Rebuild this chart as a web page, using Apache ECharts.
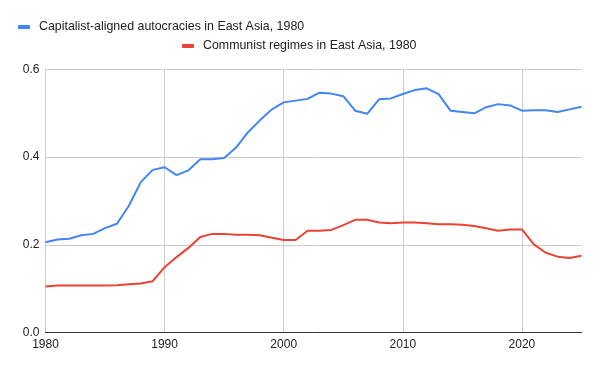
<!DOCTYPE html>
<html>
<head>
<meta charset="utf-8">
<script src="https://cdn.jsdelivr.net/npm/echarts@6/dist/echarts.min.js"></script>
<style>html,body{margin:0;padding:0;background:#fff;}#c{width:600px;height:371px;}</style>
</head>
<body>
<div id="c"></div>
<script>
var years = [];
for (var y = 1980; y <= 2025; y++) years.push(String(y));
var seriesNames = ['Capitalist-aligned autocracies in East Asia, 1980', 'Communist regimes in East Asia, 1980'];
var capitalist = [0.206,0.212,0.214,0.222,0.225,0.238,0.248,0.289,0.343,0.371,
                  0.377,0.359,0.370,0.395,0.395,0.398,0.422,0.457,0.484,0.509,
                  0.525,0.529,0.533,0.547,0.545,0.539,0.506,0.499,0.532,0.534,
                  0.544,0.553,0.557,0.544,0.506,0.503,0.500,0.514,0.521,0.518,
                  0.506,0.507,0.507,0.503,0.509,0.515];
var communist = [0.105,0.107,0.107,0.107,0.107,0.107,0.108,0.110,0.112,0.117,
                 0.149,0.172,0.193,0.218,0.225,0.225,0.223,0.223,0.222,0.216,
                 0.211,0.211,0.232,0.232,0.234,0.245,0.257,0.257,0.251,0.249,
                 0.251,0.251,0.249,0.247,0.247,0.246,0.243,0.238,0.232,0.235,
                 0.235,0.201,0.182,0.173,0.170,0.175];
var yTicks = [0, 0.2, 0.4, 0.6];

var FONT = "'Liberation Sans', Arial, sans-serif";
var chart = echarts.init(document.getElementById('c'), null, {renderer: 'canvas'});
chart.setOption({
  animation: false,
  backgroundColor: '#fff',
  color: ['#4285F4', '#EA4335'],
  textStyle: {fontFamily: FONT},
  legend: [
    {data: [seriesNames[0]], left: 18, top: 21, padding: 0, icon: 'roundRect', itemWidth: 12, itemHeight: 4,
     textStyle: {fontSize: 12.4, color: '#222', fontFamily: FONT, padding: [0, 0, 0, 4]}},
    {data: [seriesNames[1]], left: 182, top: 40, padding: 0, icon: 'roundRect', itemWidth: 12, itemHeight: 4,
     textStyle: {fontSize: 12.4, color: '#222', fontFamily: FONT, padding: [0, 0, 0, 4]}}
  ],
  grid: {left: 45.5, right: 18.5, top: 69.5, bottom: 38.5, containLabel: false},
  xAxis: {
    type: 'category',
    data: years,
    boundaryGap: false,
    axisLine: {show: true, lineStyle: {color: '#333', width: 1}},
    axisTick: {show: false},
    axisLabel: {interval: 9, margin: 6, fontSize: 12, color: '#222', fontFamily: FONT},
    splitLine: {show: true, interval: 9, lineStyle: {color: '#ccc', width: 1}}
  },
  yAxis: {
    type: 'value',
    min: yTicks[0],
    max: yTicks[yTicks.length - 1],
    interval: 0.2,
    axisLine: {show: false},
    axisTick: {show: false},
    axisLabel: {margin: 6, fontSize: 12, color: '#222', fontFamily: FONT,
      formatter: function (v) { return v.toFixed(1); }},
    splitLine: {show: true, lineStyle: {color: '#ccc', width: 1}}
  },
  series: [
    {name: seriesNames[0], type: 'line', data: capitalist, symbol: 'none', lineStyle: {width: 2}},
    {name: seriesNames[1], type: 'line', data: communist, symbol: 'none', lineStyle: {width: 2}}
  ]
});
</script>
</body>
</html>
